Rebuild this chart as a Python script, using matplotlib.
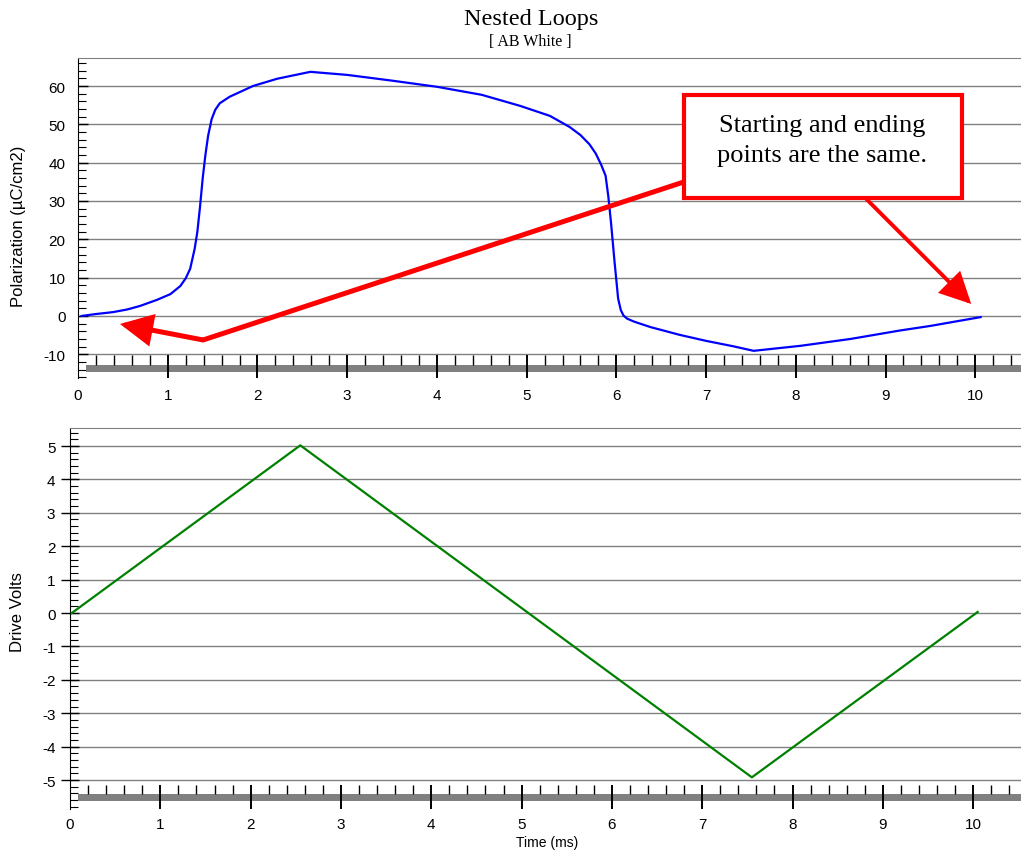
import numpy as np
import matplotlib
matplotlib.use("Agg")
import matplotlib.pyplot as plt
from matplotlib.ticker import MultipleLocator
from matplotlib.patches import Rectangle

plt.rcParams['font.family'] = ['Liberation Sans', 'DejaVu Sans']
plt.rcParams['axes.unicode_minus'] = False

# polarization trace (ms, uC/cm2)
pol_t = [0.04, 0.2, 0.39, 0.55, 0.69, 0.88, 1.03, 1.14, 1.2, 1.25, 1.3, 1.33, 1.36,
         1.39, 1.42, 1.45, 1.49, 1.53, 1.58, 1.69, 1.95, 2.22, 2.59, 3.0, 3.5, 4.0, 4.5, 4.93,
         5.26, 5.48, 5.6, 5.7, 5.77, 5.83, 5.88, 5.91, 5.94, 5.98, 6.02, 6.05, 6.08, 6.12, 6.2, 6.38,
         6.7, 7.0, 7.3, 7.53, 8.05, 8.61, 9.16, 9.5, 10.06]
pol_v = [0.0, 0.5, 1.0, 1.7, 2.6, 4.2, 5.7, 7.8, 9.8, 12.3, 17.5, 21.9, 28.5,
         36.0, 42.0, 47.0, 51.4, 53.8, 55.5, 57.2, 60.0, 61.9, 63.7, 62.9, 61.4, 59.8, 57.7, 54.8,
         52.2, 49.3, 47.2, 44.8, 42.4, 39.5, 36.6, 31.3, 24.5, 14.1, 4.5, 1.5, 0.1, -0.7, -1.5, -2.9,
         -4.9, -6.5, -7.9, -9.1, -7.8, -6.0, -3.8, -2.6, -0.3]

# drive waveform (ms, V)
drive_t = [0.02, 2.55, 7.55, 10.05]
drive_v = [0.0, 5.02, -4.92, 0.03]

title = "Nested Loops"
subtitle = "[ AB White ]"
note = "Starting and ending\npoints are the same."

W, H = 1021, 853
fig = plt.figure(figsize=(W / 100, H / 100), dpi=100)

def px_rect(l, t, r, b):
    return [l / W, 1 - b / H, (r - l) / W, (b - t) / H]

ax1 = fig.add_axes(px_rect(78, 59, 1021, 379))
ax2 = fig.add_axes(px_rect(70, 429, 1021, 810))

def style(ax, ylim, xlim, ymaj, ymin, tick_dir, band):
    ax.set_xlim(*xlim)
    ax.set_ylim(*ylim)
    for s in ('right', 'bottom'):
        ax.spines[s].set_visible(False)
    ax.spines['top'].set_color('#808080')
    ax.spines['left'].set_color('black')
    ax.yaxis.set_major_locator(MultipleLocator(ymaj))
    ax.yaxis.set_minor_locator(MultipleLocator(ymin))
    ax.set_yticks(np.arange(ymaj * np.ceil(ylim[0] / ymaj), ylim[1], ymaj))
    ax.tick_params(axis='y', which='major', direction=tick_dir, length=7 if tick_dir == 'in' else 13,
                   width=1, labelsize=11, pad=9 if tick_dir == 'in' else 4)
    ax.tick_params(axis='y', which='minor', direction='in', length=6, width=0.8)
    ax.grid(axis='y', which='major', color='#808080', lw=1)
    ax.set_axisbelow(True)
    ax.set_xticks(range(0, 11))
    ax.tick_params(axis='x', which='major', length=0, labelsize=11, pad=band[3])
    ax.xaxis.set_minor_locator(MultipleLocator(1))
    ax.tick_params(axis='x', which='minor', length=0)
    tr = ax.get_xaxis_transform()
    # grey band and hand-drawn x ticks like the original software
    ax.add_patch(Rectangle((0.09, band[2]), xlim[1], band[1] - band[2], transform=tr,
                           color='#808080', lw=0, clip_on=False, zorder=1))
    minors = [x for x in np.arange(0.2, xlim[1], 0.2) if abs(x - round(x)) > 0.05]
    ax.vlines(minors, band[1], band[0], transform=tr, color='black', lw=1, zorder=2)
    ax.vlines(range(1, 11), 0, band[0], transform=tr, color='black', lw=1.4, zorder=2)

style(ax1, (-16.19, 67.31), (0, 10.51), 10, 2, 'in', (0.0719, 0.0406, 0.0188, 7))
style(ax2, (-5.868, 5.539), (0, 10.53), 1, 0.2, 'inout', (0.063, 0.0394, 0.021, 6))

ax1.plot(pol_t, pol_v, color='#0000ff', lw=1.6, zorder=3)
ax2.plot(drive_t, drive_v, color='#008000', lw=1.6, zorder=3)

# callout box and arrows
fig.patches.append(Rectangle((684 / W, 1 - 199 / H), (962 - 684) / W, (199 - 96) / H,
                             transform=fig.transFigure, facecolor='white', edgecolor='#ff0000',
                             lw=3, zorder=5))
fig.text(822 / W, 1 - 141 / H, note, family=['Liberation Serif'], fontsize=19,
         ha='center', va='center', linespacing=1.45, zorder=6)

box_left = (6.756, 35.0)
corner = (1.394, -6.27)
tip1 = (0.468, -2.09)
box_bottom = (8.774, 30.8)
tip2 = (9.955, 3.13)
ax1.plot([box_left[0], corner[0]], [box_left[1], corner[1]], color='#ff0000', lw=3.6,
         solid_capstyle='butt', solid_joinstyle='miter', zorder=4)
ax1.annotate('', xy=tip1, xytext=corner,
             arrowprops=dict(arrowstyle='-|>,head_length=0.9,head_width=0.45', mutation_scale=20,
                             lw=3.6, color='#ff0000', shrinkA=0, shrinkB=0, joinstyle='miter'),
             zorder=4)
ax1.annotate('', xy=tip2, xytext=box_bottom,
             arrowprops=dict(arrowstyle='-|>,head_length=0.9,head_width=0.45', mutation_scale=20,
                             lw=2.8, color='#ff0000', shrinkA=0, shrinkB=0, joinstyle='miter'),
             zorder=4)

fig.text(531 / W, 1 - 19 / H, title, family=['Liberation Serif'], fontsize=17.5,
         ha='center', va='center')
fig.text(530 / W, 1 - 42 / H, subtitle, family=['Liberation Serif'], fontsize=11.5,
         ha='center', va='center')
fig.text(18 / W, 1 - 226 / H, "Polarization (µC/cm2)", fontsize=12, rotation=90,
         ha='center', va='center')
fig.text(18 / W, 1 - 612 / H, "Drive Volts", fontsize=12, rotation=90,
         ha='center', va='center')
fig.text(547 / W, 1 - 843 / H, "Time (ms)", fontsize=10, ha='center', va='center')

fig.savefig("out.png", dpi=100)
